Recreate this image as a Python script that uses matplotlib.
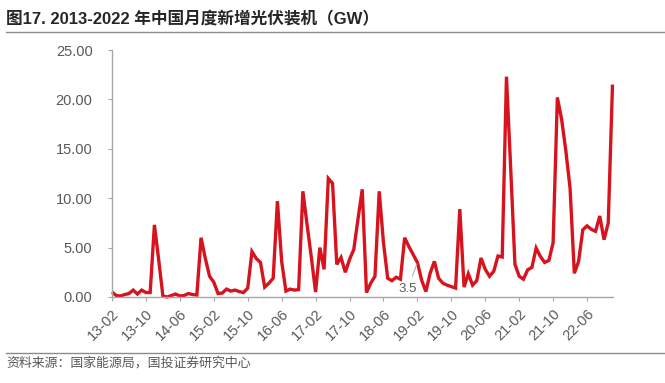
import matplotlib
matplotlib.use("Agg")
import matplotlib.pyplot as plt
from matplotlib.lines import Line2D
import matplotlib.transforms as mtransforms
import numpy as np

plt.rcParams['font.family'] = ['Liberation Sans', 'Noto Sans CJK SC', 'DejaVu Sans']

title = "图17. 2013-2022 年中国月度新增光伏装机（GW）"
source = "资料来源：国家能源局，国投证券研究中心"

tick_labels = ["13-02", "13-10", "14-06", "15-02", "15-10", "16-06", "17-02", "17-10",
               "18-06", "19-02", "19-10", "20-06", "21-02", "21-10", "22-06"]

# monthly new PV installations (GW), 2013-02 .. 2022-12
values = [
    0.5, 0.15, 0.1, 0.25, 0.35, 0.7, 0.3, 0.7, 0.45, 0.45,
    7.3, 3.8, 0.1, 0.0, 0.15, 0.3, 0.1, 0.15, 0.35, 0.25,
    0.2, 6.0, 3.9, 2.1, 1.5, 0.35, 0.4, 0.8, 0.6, 0.7,
    0.55, 0.45, 0.9, 4.6, 3.9, 3.5, 1.0, 1.4, 1.9, 9.7,
    3.6, 0.6, 0.8, 0.7, 0.75, 10.7, 7.3, 4.0, 0.5, 5.0,
    2.8, 12.0, 11.5, 3.3, 4.0, 2.5, 3.8, 4.8, 7.9, 10.9,
    0.45, 1.4, 2.1, 10.7, 5.5, 1.9, 1.65, 2.0, 1.8, 6.0,
    5.1, 4.3, 3.5, 1.7, 0.55, 2.4, 3.6, 1.9, 1.4, 1.2,
    1.05, 0.9, 8.9, 1.0, 2.35, 1.2, 1.65, 3.95, 2.8, 2.1,
    2.6, 4.15, 4.05, 22.3, 13.0, 3.3, 2.1, 1.8, 2.75, 3.0,
    4.95, 4.1, 3.5, 3.7, 5.5, 20.2, 18.0, 14.8, 11.0, 2.4,
    3.6, 6.8, 7.2, 6.85, 6.65, 8.2, 5.8, 7.5, 21.5,
]
y_ticks = [0, 5, 10, 15, 20, 25]
label_index = 72  # point carrying the "3.5" data label

W, H = 665, 383
fig = plt.figure(figsize=(W / 100, H / 100), dpi=100)
ax = fig.add_axes([112 / W, (H - 297) / H, (612.5 - 112) / W, (297 - 50) / H])

x = np.arange(len(values))
ax.plot(x, values, color="#D7141E", lw=2.4, solid_joinstyle="miter", solid_capstyle="butt", clip_on=False)

ax.set_xlim(0, len(values) - 1)
ax.set_ylim(0, 25)
ax.set_yticks(y_ticks)
ax.set_yticklabels([f"{v:.2f}" for v in y_ticks])
ax.set_xticks(np.arange(len(tick_labels)) * 8)
ax.set_xticklabels(tick_labels, rotation=45, ha="right", va="top", rotation_mode="anchor")
shift = mtransforms.ScaledTranslation(3 / 72, -2 / 72, fig.dpi_scale_trans)
for lab in ax.get_xticklabels():
    lab.set_transform(lab.get_transform() + shift)

for s in ["top", "right"]:
    ax.spines[s].set_visible(False)
for s in ["left", "bottom"]:
    ax.spines[s].set_color("#A6A6A6")
    ax.spines[s].set_linewidth(1.0)
ax.tick_params(axis="y", length=3, width=0.8, color="#A6A6A6", pad=11, labelsize=10.5, labelcolor="#595959")
ax.tick_params(axis="x", length=3, width=0.8, color="#A6A6A6", pad=4, labelsize=10.5, labelcolor="#595959")

ax.annotate(f"{values[label_index]}", xy=(label_index, values[label_index]),
            xytext=(-7, -19), textcoords="offset points", ha="center", va="center",
            fontsize=9.5, color="#595959",
            arrowprops=dict(arrowstyle="-", color="#A6A6A6", lw=0.7, shrinkA=3, shrinkB=1))

# header / footer
fig.text(6 / W, 1 - 19.5 / H, title, fontsize=12, fontweight="bold", color="#262626", ha="left", va="center")
fig.add_artist(Line2D([6 / W, 1], [1 - 32 / H] * 2, color="#8C8C8C", lw=1.0))
fig.add_artist(Line2D([6 / W, 1], [1 - 352.7 / H] * 2, color="#8C8C8C", lw=1.0))
fig.text(6 / W, 1 - 363 / H, source, fontsize=9.3, color="#595959", ha="left", va="center", style="italic")

fig.savefig("out.png", dpi=100)
